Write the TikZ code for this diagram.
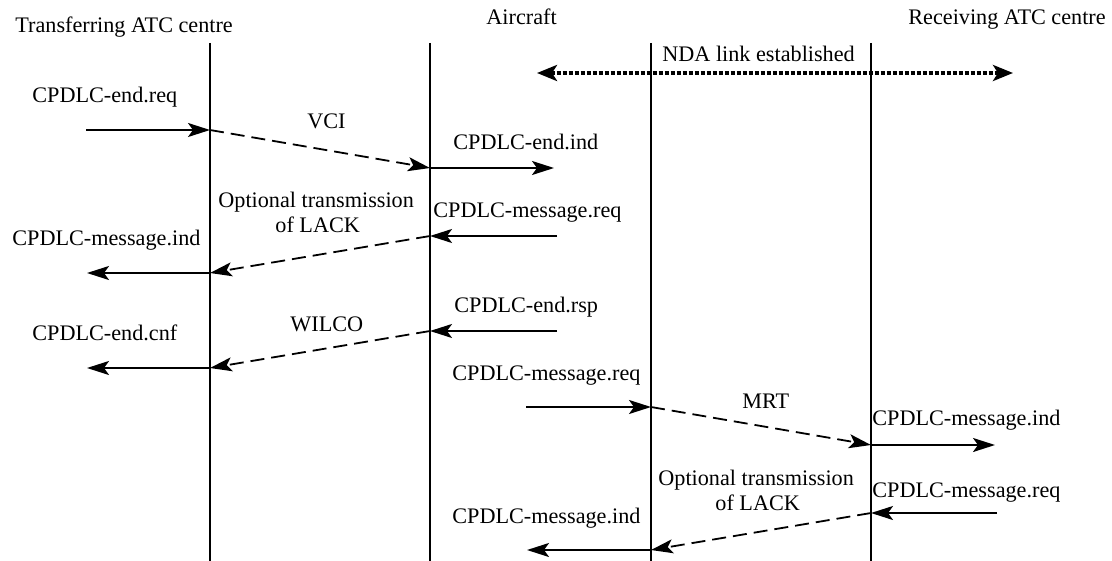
\documentclass[tikz,border=0pt]{standalone}
\usepackage{fontspec}
\setmainfont{Liberation Serif}
\usetikzlibrary{arrows.meta}
\begin{document}
\begin{tikzpicture}[x=0.5pt,y=-0.5pt,
  lbl/.style={inner sep=0pt,anchor=base west,font=\fontsize{11.1}{13}\selectfont},
  lifeline/.style={line width=0.75pt},
  prim/.style={line width=1pt,-{Stealth[length=11pt,width=7pt,inset=2.5pt]}},
  msg/.style={line width=0.9pt,dash pattern=on 7pt off 3.5pt,-{Stealth[length=11pt,width=7pt,inset=2.5pt]}},
  link/.style={line width=2pt,dash pattern=on 2pt off 1pt,{Stealth[length=10pt,width=8pt,inset=2.5pt]}-{Stealth[length=10pt,width=8pt,inset=2.5pt]}}]
\useasboundingbox (0,0) rectangle (1112,561);
% headers
\node[lbl] (hT) at (15,33) {Transferring ATC centre};
\node[lbl] (hA) at (486,25) {Aircraft};
\node[lbl] (hR) at (908,25) {Receiving ATC centre};
% lifelines
\coordinate (t1) at (210,43); \coordinate (b1) at (210,561);
\coordinate (t2) at (430,43); \coordinate (b2) at (430,561);
\coordinate (t3) at (651,43); \coordinate (b3) at (651,561);
\coordinate (t4) at (871,43); \coordinate (b4) at (871,561);
\draw[lifeline] (t1) -- (b1);
\draw[lifeline] (t2) -- (b2);
\draw[lifeline] (t3) -- (b3);
\draw[lifeline] (t4) -- (b4);
% NDA link
\coordinate (nL) at (537,73); \coordinate (nR) at (1013,73);
\draw[link] (nL) -- (nR);
\node[lbl] (lNDA) at (662,62) {NDA link established};
% message points
\coordinate (p1) at (86,130);  \coordinate (q1) at (210,130);
\coordinate (q2) at (430,168); \coordinate (p3) at (554,168);
\coordinate (p4) at (557,236); \coordinate (q4) at (430,236);
\coordinate (q5) at (210,273); \coordinate (p6) at (87,273);
\coordinate (p7) at (557,331); \coordinate (q7) at (430,331);
\coordinate (q8) at (210,368); \coordinate (p9) at (87,368);
\coordinate (p10) at (526,407); \coordinate (q10) at (651,407);
\coordinate (q11) at (871,445); \coordinate (p12) at (995,445);
\coordinate (p13) at (997,513); \coordinate (q13) at (871,513);
\coordinate (q14) at (651,550); \coordinate (p15) at (527,550);
% arrows
\draw[prim] (p1) -- (q1);
\draw[msg] (q1) -- (q2);
\draw[prim] (q2) -- (p3);
\draw[prim] (p4) -- (q4);
\draw[msg] (q4) -- (q5);
\draw[prim] (q5) -- (p6);
\draw[prim] (p7) -- (q7);
\draw[msg] (q7) -- (q8);
\draw[prim] (q8) -- (p9);
\draw[prim] (p10) -- (q10);
\draw[msg] (q10) -- (q11);
\draw[prim] (q11) -- (p12);
\draw[prim] (p13) -- (q13);
\draw[msg] (q13) -- (q14);
\draw[prim] (q14) -- (p15);
% labels
\node[lbl] (l1) at (32,103) {CPDLC-end.req};
\node[lbl] (l2) at (307,129) {VCI};
\node[lbl] (l3) at (453,150) {CPDLC-end.ind};
\node[lbl] (l4) at (433,218) {CPDLC-message.req};
\node[lbl] (l5a) at (218,207) {Optional transmission};
\node[lbl] (l5b) at (275,233) {of LACK};
\node[lbl] (l6) at (12,245) {CPDLC-message.ind};
\node[lbl] (l7) at (454,312) {CPDLC-end.rsp};
\node[lbl] (l8) at (290,331) {WILCO};
\node[lbl] (l9) at (32,340) {CPDLC-end.cnf};
\node[lbl] (l10) at (452,380) {CPDLC-message.req};
\node[lbl] (l11) at (742,408) {MRT};
\node[lbl] (l12) at (872,425) {CPDLC-message.ind};
\node[lbl] (l13) at (872,497) {CPDLC-message.req};
\node[lbl] (l14a) at (658,485) {Optional transmission};
\node[lbl] (l14b) at (715,510) {of LACK};
\node[lbl] (l15) at (452,523) {CPDLC-message.ind};
\end{tikzpicture}
\end{document}
